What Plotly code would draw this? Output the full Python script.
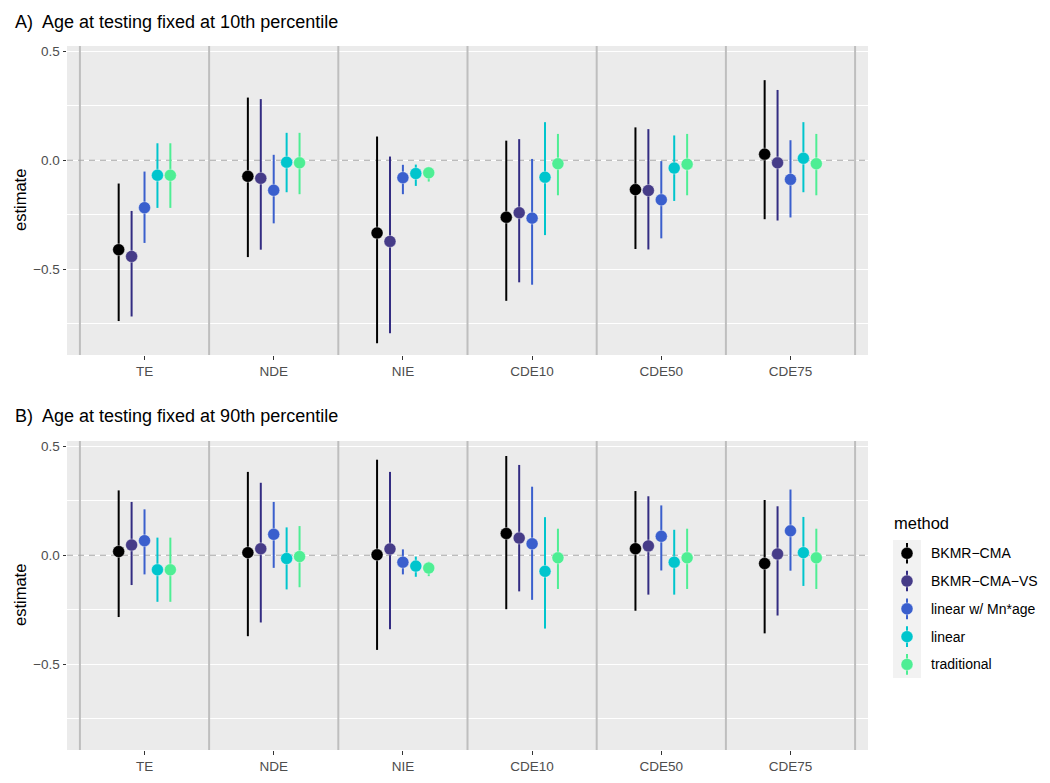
import plotly.graph_objects as go

# ---------------- data ----------------
effects = ["TE", "NDE", "NIE", "CDE10", "CDE50", "CDE75"]
methods = ["BKMR\u2212CMA", "BKMR\u2212CMA\u2212VS", "linear w/ Mn*age", "linear", "traditional"]
point_colors = ["#000000", "#463C88", "#3A5FCD", "#00C5CD", "#4EEE94"]
line_colors = ["#000000", "#332C82", "#3A5FCD", "#00C5CD", "#4EEE94"]

# Panel A: age at testing fixed at 10th percentile (rows = methods, cols = effects)
A_est = [
    [-0.411, -0.074, -0.334, -0.262, -0.135, 0.028],
    [-0.442, -0.083, -0.373, -0.241, -0.139, -0.012],
    [-0.218, -0.138, -0.080, -0.266, -0.182, -0.088],
    [-0.069, -0.009, -0.061, -0.078, -0.036, 0.009],
    [-0.069, -0.012, -0.058, -0.016, -0.018, -0.016],
]
A_lo = [
    [-0.739, -0.445, -0.841, -0.646, -0.408, -0.271],
    [-0.718, -0.411, -0.795, -0.561, -0.410, -0.277],
    [-0.380, -0.290, -0.156, -0.572, -0.359, -0.263],
    [-0.219, -0.147, -0.118, -0.344, -0.187, -0.147],
    [-0.219, -0.156, -0.098, -0.161, -0.161, -0.161],
]
A_hi = [
    [-0.107, 0.288, 0.109, 0.090, 0.151, 0.368],
    [-0.233, 0.281, 0.017, 0.097, 0.143, 0.323],
    [-0.052, 0.025, -0.021, 0.006, -0.004, 0.092],
    [0.078, 0.126, -0.020, 0.175, 0.114, 0.175],
    [0.078, 0.126, -0.031, 0.121, 0.121, 0.121],
]

# Panel B: age at testing fixed at 90th percentile
B_est = [
    [0.017, 0.012, 0.002, 0.100, 0.030, -0.038],
    [0.047, 0.030, 0.029, 0.079, 0.043, 0.006],
    [0.067, 0.096, -0.032, 0.053, 0.087, 0.112],
    [-0.067, -0.015, -0.050, -0.074, -0.032, 0.012],
    [-0.067, -0.006, -0.059, -0.012, -0.012, -0.012],
]
B_lo = [
    [-0.284, -0.372, -0.435, -0.248, -0.255, -0.359],
    [-0.137, -0.309, -0.340, -0.166, -0.181, -0.277],
    [-0.088, -0.058, -0.088, -0.205, -0.070, -0.071],
    [-0.214, -0.157, -0.099, -0.337, -0.181, -0.141],
    [-0.214, -0.147, -0.096, -0.155, -0.155, -0.155],
]
B_hi = [
    [0.298, 0.383, 0.439, 0.456, 0.295, 0.254],
    [0.245, 0.333, 0.383, 0.415, 0.271, 0.225],
    [0.211, 0.245, 0.027, 0.315, 0.229, 0.302],
    [0.081, 0.128, -0.006, 0.175, 0.117, 0.176],
    [0.081, 0.134, -0.030, 0.122, 0.122, 0.122],
]

y_ticks = [-0.5, 0.0, 0.5]
titles = ["A)  Age at testing fixed at 10th percentile",
          "B)  Age at testing fixed at 90th percentile"]

# ---------------- layout helpers ----------------
W, H = 1050, 783
FONT = "Liberation Sans, Arial, sans-serif"
PANEL_BG = "#EBEBEB"
DODGE = 0.1
x_range = [0.4, len(effects) + 0.6]
y_range = [-0.895, 0.525]


def px_x(p):
    return p / W


def px_y(p):
    return 1 - p / H


fig = go.Figure()

panels = [(A_est, A_lo, A_hi, "x", "y"), (B_est, B_lo, B_hi, "x2", "y2")]
for est, lo, hi, xa, ya in panels:
    # category separators
    sep_x, sep_y = [], []
    for k in range(len(effects) + 1):
        sep_x += [k + 0.5, k + 0.5, None]
        sep_y += [y_range[0], y_range[1], None]
    fig.add_trace(go.Scatter(x=sep_x, y=sep_y, xaxis=xa, yaxis=ya, mode="lines",
                             line=dict(color="#BEBEBE", width=2),
                             showlegend=False, hoverinfo="skip"))
    # dashed reference line at zero
    fig.add_trace(go.Scatter(x=x_range, y=[0, 0], xaxis=xa, yaxis=ya, mode="lines",
                             line=dict(color="#A6A6A6", width=1.1, dash="6px,5px"),
                             showlegend=False, hoverinfo="skip"))
    for i, m in enumerate(methods):
        xs = [j + 1 + (i - 2) * DODGE for j in range(len(effects))]
        fig.add_trace(go.Scatter(
            x=xs, y=est[i], xaxis=xa, yaxis=ya, mode="markers", name=m,
            showlegend=False,
            marker=dict(size=12, color=point_colors[i],
                        line=dict(color="rgba(255,255,255,0.6)", width=0.6)),
            error_y=dict(type="data", symmetric=False,
                         array=[h - e for h, e in zip(hi[i], est[i])],
                         arrayminus=[e - l for e, l in zip(est[i], lo[i])],
                         color=line_colors[i], thickness=2, width=0),
        ))

# legend drawn on a small hidden subplot
for i, m in enumerate(methods):
    fig.add_trace(go.Scatter(
        x=[0], y=[i], xaxis="x3", yaxis="y3", mode="markers", showlegend=False,
        marker=dict(size=12, color=point_colors[i],
                    line=dict(color="rgba(255,255,255,0.6)", width=0.6)),
        error_y=dict(type="constant", value=0.37, color=line_colors[i],
                     thickness=2, width=0),
        hoverinfo="skip",
    ))

xaxis_common = dict(
    range=x_range, tickvals=list(range(1, len(effects) + 1)), ticktext=effects,
    showgrid=False, zeroline=False, ticks="outside", ticklen=4, tickwidth=1,
    tickcolor="#333333", tickfont=dict(family=FONT, size=13.5, color="#4D4D4D"),
    showline=False, fixedrange=True, domain=[px_x(67), px_x(868)],
)
yaxis_common = dict(
    range=y_range, tickvals=y_ticks, tickformat=".1f", showgrid=True,
    gridcolor="#FFFFFF", gridwidth=1.1, zeroline=False, ticks="outside",
    ticklen=3.5, tickwidth=1, tickcolor="#333333",
    tickfont=dict(family=FONT, size=13.5, color="#4D4D4D"),
    minor=dict(tickvals=[-0.75, -0.25, 0.25], showgrid=True,
               gridcolor="#FFFFFF", gridwidth=0.55, ticks=""),
    showline=False, fixedrange=True,
)

fig.update_layout(
    width=W, height=H,
    margin=dict(l=0, r=0, t=0, b=0, autoexpand=False),
    paper_bgcolor="#FFFFFF", plot_bgcolor=PANEL_BG,
    font=dict(family=FONT, color="#000000"),
    showlegend=False,
    xaxis=dict(anchor="y", **xaxis_common),
    xaxis2=dict(anchor="y2", **xaxis_common),
    yaxis=dict(anchor="x", domain=[px_y(355), px_y(46)], **yaxis_common),
    yaxis2=dict(anchor="x2", domain=[px_y(750), px_y(441)], **yaxis_common),
    xaxis3=dict(anchor="y3", domain=[px_x(893), px_x(921)], range=[-0.5, 0.5],
                visible=False, fixedrange=True),
    yaxis3=dict(anchor="x3", domain=[px_y(678), px_y(540)],
                range=[len(methods) - 0.51, -0.48], visible=False, fixedrange=True),
)

# legend key background
fig.add_shape(type="rect", xref="x3 domain", yref="y3 domain",
              x0=0, x1=1, y0=0, y1=1, fillcolor="#F2F2F2",
              line=dict(width=0), layer="below")

annotations = []
annotations.append(dict(text=titles[0], xref="paper", yref="paper",
                        x=px_x(13), y=px_y(22), xanchor="left", yanchor="middle",
                        showarrow=False, font=dict(family=FONT, size=18, color="#000000")))
annotations.append(dict(text=titles[1], xref="paper", yref="paper",
                        x=px_x(13), y=px_y(416), xanchor="left", yanchor="middle",
                        showarrow=False, font=dict(family=FONT, size=18, color="#000000")))
for yc in (200, 595):
    annotations.append(dict(text="estimate", xref="paper", yref="paper",
                            x=px_x(20), y=px_y(yc), xanchor="center", yanchor="middle",
                            textangle=-90, showarrow=False,
                            font=dict(family=FONT, size=16.5, color="#000000")))
annotations.append(dict(text="method", xref="paper", yref="paper",
                        x=px_x(892), y=px_y(523), xanchor="left", yanchor="middle",
                        showarrow=False, font=dict(family=FONT, size=16.5, color="#000000")))
for i, m in enumerate(methods):
    annotations.append(dict(text=m, xref="paper", yref="y3", x=px_x(929), y=i,
                            xanchor="left", yanchor="middle", showarrow=False,
                            font=dict(family=FONT, size=14, color="#000000")))
fig.update_layout(annotations=annotations)

fig.write_html("out.html", config={"displayModeBar": False},
               post_script="document.body.style.margin='0px';")
